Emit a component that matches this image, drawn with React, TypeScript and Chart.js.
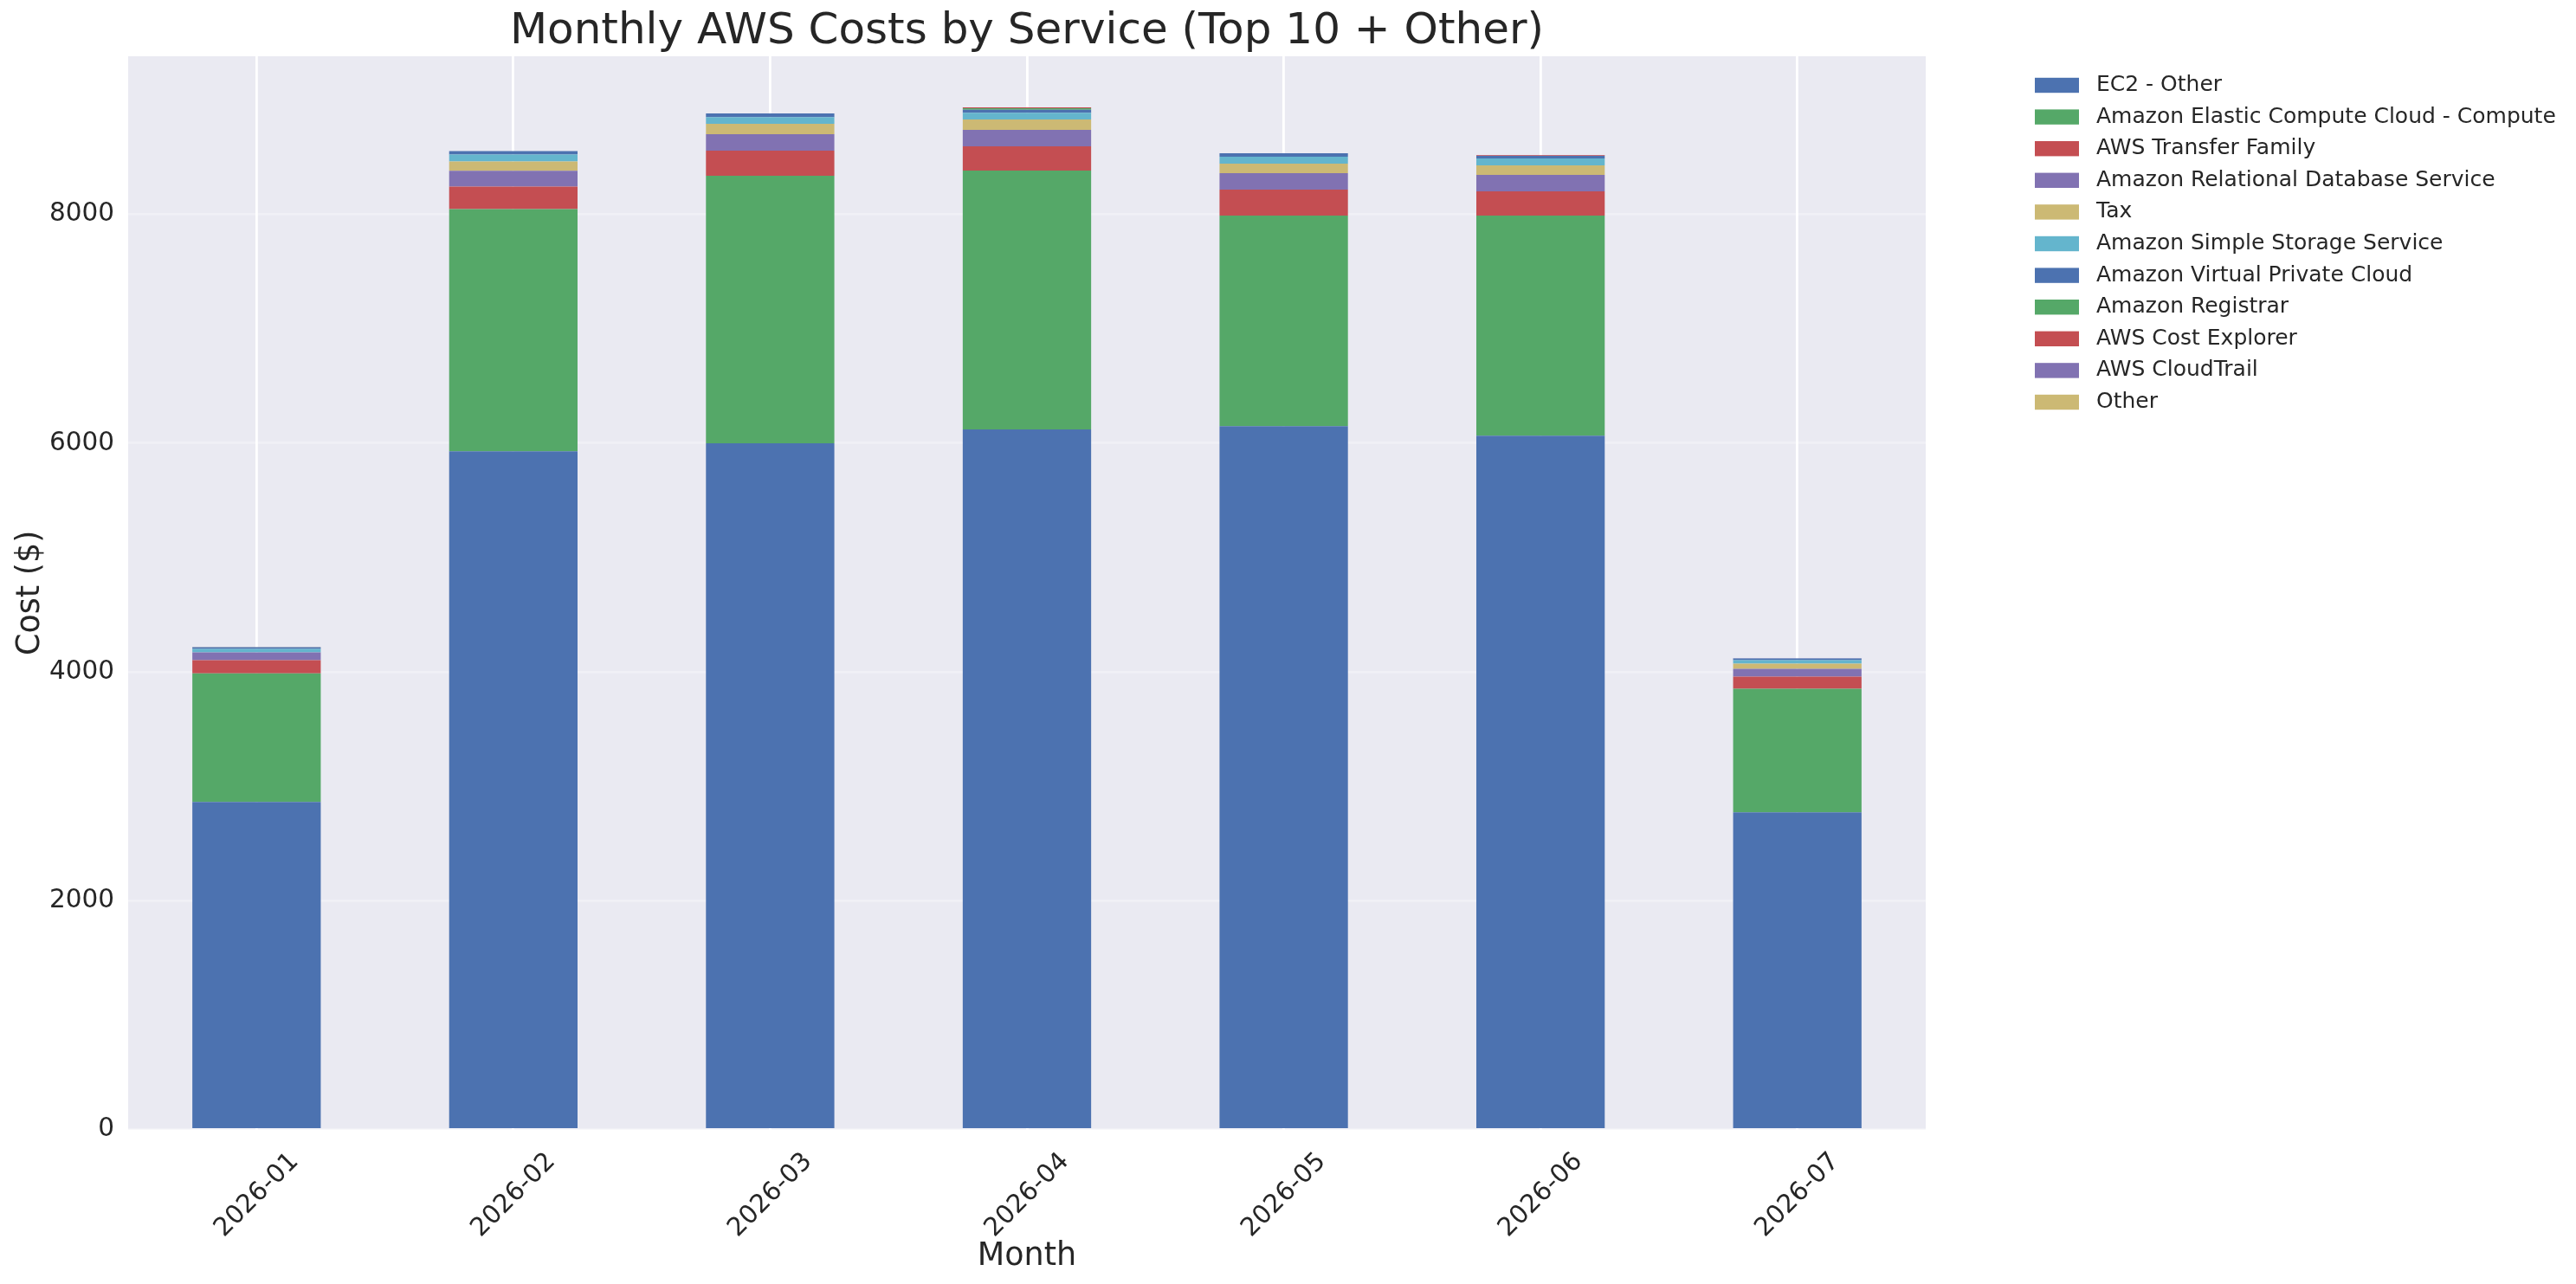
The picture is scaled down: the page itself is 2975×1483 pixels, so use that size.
import { useEffect, useRef } from 'react'
import { Chart, registerables } from 'chart.js'

Chart.register(...registerables)

const months = ['2026-01', '2026-02', '2026-03', '2026-04', '2026-05', '2026-06', '2026-07']

const services = [
  'EC2 - Other',
  'Amazon Elastic Compute Cloud - Compute',
  'AWS Transfer Family',
  'Amazon Relational Database Service',
  'Tax',
  'Amazon Simple Storage Service',
  'Amazon Virtual Private Cloud',
  'Amazon Registrar',
  'AWS Cost Explorer',
  'AWS CloudTrail',
  'Other',
]

// monthly cost per service, $
const ec2Other = [2864, 5929, 6000, 6121, 6149, 6066, 2773]
const ec2Compute = [1123, 2118, 2338, 2262, 1841, 1924, 1081]
const transferFamily = [116, 196, 219, 212, 227, 212, 106]
const rds = [69, 139, 144, 144, 144, 144, 68]
const tax = [0, 81, 91, 91, 83, 83, 45]
const s3 = [30, 61, 60, 60, 60, 60, 30]
const vpc = [15, 30, 31, 25, 31, 23, 16]
const registrar = [0, 0, 0, 13, 0, 0, 0]
const costExplorer = [0, 0, 0, 8, 0, 7, 0]
const cloudTrail = [0.3, 0.6, 0.6, 0.6, 0.6, 0.6, 0.3]
const other = [0.2, 0.4, 0.4, 0.4, 0.4, 0.4, 0.2]

const seriesValues = [ec2Other, ec2Compute, transferFamily, rds, tax, s3, vpc, registrar, costExplorer, cloudTrail, other]

const yTicks = [0, 2000, 4000, 6000, 8000]
const yMax = 9383

const palette = ['#4C72B0', '#55A868', '#C44E52', '#8172B2', '#CCB974', '#64B5CD']
const FONT = "'DejaVu Sans', sans-serif"
const TEXT = '#262626'

const plotBg = {
  id: 'plotBg',
  beforeDraw(chart: Chart) {
    const { ctx, chartArea: a } = chart
    ctx.save()
    ctx.fillStyle = '#EAEAF2'
    ctx.fillRect(a.left, a.top, a.width, a.height)
    ctx.restore()
  },
}

// matplotlib-style legend sitting outside the axes, top right
const sideLegend = {
  id: 'sideLegend',
  afterDraw(chart: Chart) {
    const { ctx, chartArea: a } = chart
    ctx.save()
    ctx.font = `25px ${FONT}`
    ctx.textBaseline = 'middle'
    ctx.textAlign = 'left'
    chart.data.datasets.forEach((ds, i) => {
      const y = 98.5 + i * 36.6
      ctx.fillStyle = ds.backgroundColor as string
      ctx.fillRect(a.right + 126, y - 8.7, 51, 17.4)
      ctx.fillStyle = TEXT
      ctx.fillText(ds.label as string, a.right + 197, y)
    })
    ctx.restore()
  },
}

function CostChart() {
  const ref = useRef<HTMLCanvasElement>(null)
  const inst = useRef<Chart | null>(null)

  useEffect(() => {
    if (!ref.current) return
    if (inst.current) inst.current.destroy()
    Chart.defaults.font.family = FONT
    Chart.defaults.color = TEXT
    inst.current = new Chart(ref.current, {
      type: 'bar',
      data: {
        labels: months,
        datasets: services.map((name, i) => ({
          label: name,
          data: seriesValues[i],
          backgroundColor: palette[i % palette.length],
          borderWidth: 0,
          barPercentage: 0.5,
          categoryPercentage: 1,
        })),
      },
      options: {
        responsive: false,
        animation: false,
        devicePixelRatio: 1,
        layout: { padding: { top: 0, right: 751, bottom: 0, left: 0 } },
        plugins: {
          legend: { display: false },
          tooltip: { enabled: false },
          title: {
            display: true,
            text: 'Monthly AWS Costs by Service (Top 10 + Other)',
            fullSize: false,
            color: TEXT,
            font: { size: 50, weight: 'normal', family: FONT, lineHeight: 1.12 },
            padding: { top: 9, bottom: 0 },
          },
        },
        scales: {
          x: {
            stacked: true,
            offset: true,
            border: { display: false },
            grid: { offset: false, color: '#ffffff', lineWidth: 2.8, drawTicks: false },
            ticks: {
              autoSkip: false,
              minRotation: 45,
              maxRotation: 45,
              labelOffset: 44,
              padding: 20,
              color: TEXT,
              font: { size: 29.5, family: FONT },
            },
            title: {
              display: true,
              text: 'Month',
              color: TEXT,
              font: { size: 36.5, family: FONT },
              padding: { top: 0, bottom: 9.5 },
            },
            afterFit(scale) { scale.height = 178.5 },
          },
          y: {
            stacked: true,
            min: 0,
            max: yMax,
            border: { display: false },
            grid: { color: 'rgba(255,255,255,0.3)', lineWidth: 2.8, drawTicks: false },
            afterBuildTicks(scale) { scale.ticks = yTicks.map(v => ({ value: v })) },
            ticks: {
              padding: 16,
              color: TEXT,
              font: { size: 29.5, family: FONT },
              callback: (v) => String(v),
            },
            title: {
              display: true,
              text: 'Cost ($)',
              color: TEXT,
              font: { size: 36.5, family: FONT },
              padding: { top: 14, bottom: 0 },
            },
            afterFit(scale) { scale.width = 148 },
          },
        },
      },
      plugins: [plotBg, sideLegend],
    })
    return () => inst.current?.destroy()
  }, [])

  return (
    <div style={{ width: 2975, height: 1483, background: '#ffffff' }}>
      <canvas ref={ref} width={2975} height={1483} />
    </div>
  )
}

export default function App() {
  useEffect(() => {
    document.body.style.margin = '0'
  }, [])
  return <CostChart />
}
